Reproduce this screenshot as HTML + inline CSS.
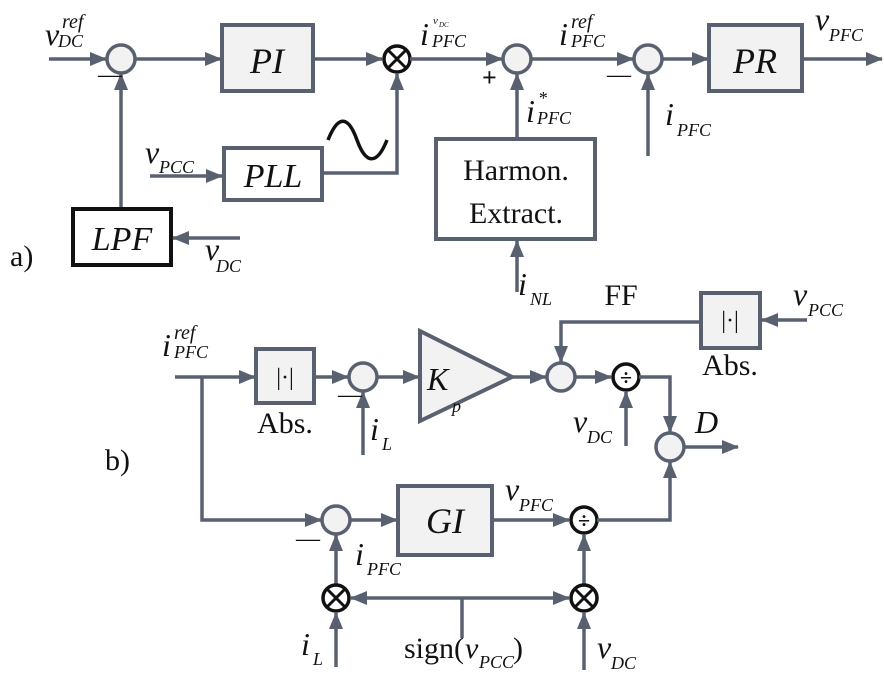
<!DOCTYPE html>
<html><head><meta charset="utf-8"><style>
html,body{margin:0;padding:0;background:#fff}
svg{display:block}
text{font-family:"Liberation Serif",serif;fill:#111}
.it{font-style:italic}
.ln{stroke:#596070;stroke-width:3.5;fill:none}
.bx{stroke:#596070;stroke-width:4;fill:#f2f2f2}
.bk{stroke:#111;stroke-width:4;fill:#fff}
.sm{stroke:#596070;stroke-width:3.5;fill:#f2f2f2}
.op{stroke:#111;stroke-width:3.5;fill:#fff}
</style></head><body>
<svg width="884" height="689" viewBox="0 0 884 689">
<defs><marker id="a" markerUnits="userSpaceOnUse" markerWidth="18" markerHeight="14" refX="16" refY="7" orient="auto"><path d="M0,0 L17,7 L0,14 z" fill="#596070"/></marker></defs>

<g>
<path class="ln" d="M49,59 H106" marker-end="url(#a)"/>
<circle class="sm" cx="121" cy="59" r="14"/>
<path class="ln" d="M135,59 H221" marker-end="url(#a)"/>
<rect class="bx" x="222" y="25" width="91" height="66"/>
<text class="it" x="267" y="73" font-size="36" text-anchor="middle">PI</text>
<path class="ln" d="M313,59 H382" marker-end="url(#a)"/>
<g><circle class="op" cx="397" cy="59" r="13"/><path d="M388,50 L406,68 M406,50 L388,68" stroke="#111" stroke-width="3"/></g>
<path class="ln" d="M410,59 H502" marker-end="url(#a)"/>
<circle class="sm" cx="517" cy="59" r="14"/>
<path class="ln" d="M531,59 H633" marker-end="url(#a)"/>
<circle class="sm" cx="648" cy="59" r="14"/>
<path class="ln" d="M662,59 H708" marker-end="url(#a)"/>
<rect class="bx" x="709" y="25" width="93" height="66"/>
<text class="it" x="755" y="73" font-size="36" text-anchor="middle">PR</text>
<path class="ln" d="M802,59 H882" marker-end="url(#a)"/>
<path class="ln" d="M121,209 V74" marker-end="url(#a)"/>
<rect class="bk" x="73" y="209" width="98" height="56"/>
<text class="it" x="122" y="250" font-size="34" text-anchor="middle">LPF</text>
<path class="ln" d="M240,238 H173" marker-end="url(#a)"/>
<path class="ln" d="M150,176 H222" marker-end="url(#a)"/>
<rect class="bx" x="224" y="148" width="98" height="52" style="fill:#fff"/>
<text class="it" x="273" y="187" font-size="34" text-anchor="middle">PLL</text>
<path class="ln" d="M322,173 H397 V74" marker-end="url(#a)"/>
<path d="M328,140 C338,115 348,115 357,140 C366,165 377,165 387,140" stroke="#111" stroke-width="3.5" fill="none"/>
<rect class="bx" x="436" y="139" width="159" height="100" style="fill:#fff"/>
<text x="516" y="180" font-size="30" text-anchor="middle">Harmon.</text>
<text x="516" y="223" font-size="30" text-anchor="middle">Extract.</text>
<path class="ln" d="M517,139 V74" marker-end="url(#a)"/>
<path class="ln" d="M517,292 V241" marker-end="url(#a)"/>
<path class="ln" d="M648,156 V74" marker-end="url(#a)"/>
<text class="it" x="45" y="45" font-size="32">v</text><text class="it" x="62" y="28" font-size="20">ref</text><text class="it" x="58" y="47" font-size="18">DC</text>
<text x="98" y="82" font-size="24">—</text>
<text class="it" x="420" y="45" font-size="32">i</text><text class="it" x="433" y="24" font-size="11">v</text><text class="it" x="439" y="27" font-size="7">DC</text><text class="it" x="432" y="47" font-size="18">PFC</text>
<text x="482" y="86" font-size="26" font-weight="bold">+</text>
<text class="it" x="526" y="122" font-size="32">i</text><text class="it" x="538" y="104" font-size="18">*</text><text class="it" x="537" y="124" font-size="18">PFC</text>
<text class="it" x="559" y="45" font-size="32">i</text><text class="it" x="571" y="28" font-size="20">ref</text><text class="it" x="571" y="47" font-size="18">PFC</text>
<text x="607" y="82" font-size="24">—</text>
<text class="it" x="665" y="125" font-size="32">i</text><text class="it" x="677" y="136" font-size="18">PFC</text>
<text class="it" x="815" y="30" font-size="32">v</text><text class="it" x="829" y="41" font-size="18">PFC</text>
<text class="it" x="145" y="163" font-size="32">v</text><text class="it" x="159" y="173" font-size="18">PCC</text>
<text class="it" x="205" y="260" font-size="32">v</text><text class="it" x="216" y="272" font-size="18">DC</text>
<text class="it" x="518" y="295" font-size="32">i</text><text class="it" x="530" y="305" font-size="18">NL</text>
<text x="10" y="266" font-size="30">a)</text>
</g>

<g>
<path class="ln" d="M175,377 H255" marker-end="url(#a)"/>
<rect class="bx" x="256" y="349" width="58" height="54"/>
<text x="285" y="385" font-size="24" text-anchor="middle">|·|</text>
<path class="ln" d="M314,377 H348" marker-end="url(#a)"/>
<circle class="sm" cx="363" cy="377" r="14"/>
<path class="ln" d="M363,455 V392" marker-end="url(#a)"/>
<path class="ln" d="M377,377 H419" marker-end="url(#a)"/>
<path class="bx" d="M420,331 L512,377 L420,421 Z"/>
<text class="it" x="427" y="390" font-size="32">K</text><text class="it" x="452" y="412" font-size="18">p</text>
<path class="ln" d="M512,377 H546" marker-end="url(#a)"/>
<circle class="sm" cx="561" cy="377" r="14"/>
<path class="ln" d="M575,377 H611" marker-end="url(#a)"/>
<g><circle class="op" cx="626" cy="377" r="13"/><text x="626" y="385" font-size="22" text-anchor="middle" font-weight="bold">÷</text></g>
<path class="ln" d="M626,446 V392" marker-end="url(#a)"/>
<path class="ln" d="M639,377 H670 V432" marker-end="url(#a)"/>
<circle class="sm" cx="670" cy="447" r="14"/>
<path class="ln" d="M684,447 H738" marker-end="url(#a)"/>
<rect class="bx" x="701" y="293" width="59" height="55"/>
<text x="730" y="328" font-size="24" text-anchor="middle">|·|</text>
<path class="ln" d="M807,320 H762" marker-end="url(#a)"/>
<path class="ln" d="M701,322 H561 V362" marker-end="url(#a)"/>
<path class="ln" d="M202,377 V520 H321" marker-end="url(#a)"/>
<circle class="sm" cx="336" cy="520" r="14"/>
<path class="ln" d="M350,520 H397" marker-end="url(#a)"/>
<rect class="bx" x="398" y="486" width="94" height="69"/>
<text class="it" x="445" y="533" font-size="36" text-anchor="middle">GI</text>
<path class="ln" d="M492,520 H569" marker-end="url(#a)"/>
<g><circle class="op" cx="584" cy="520" r="13"/><text x="584" y="528" font-size="22" text-anchor="middle" font-weight="bold">÷</text></g>
<path class="ln" d="M597,520 H670 V462" marker-end="url(#a)"/>
<path class="ln" d="M336,585 V535" marker-end="url(#a)"/>
<path class="ln" d="M584,585 V535" marker-end="url(#a)"/>
<g><circle class="op" cx="336" cy="598" r="13"/><path d="M327,589 L345,607 M345,589 L327,607" stroke="#111" stroke-width="3"/></g>
<g><circle class="op" cx="584" cy="598" r="13"/><path d="M575,589 L593,607 M593,589 L575,607" stroke="#111" stroke-width="3"/></g>
<path class="ln" d="M462,598 H351" marker-end="url(#a)"/>
<path class="ln" d="M462,598 H569" marker-end="url(#a)"/>
<path class="ln" d="M462,598 V638"/>
<path class="ln" d="M336,667 V613" marker-end="url(#a)"/>
<path class="ln" d="M584,670 V613" marker-end="url(#a)"/>
<text class="it" x="162" y="356" font-size="32">i</text><text class="it" x="174" y="339" font-size="20">ref</text><text class="it" x="174" y="358" font-size="18">PFC</text>
<text x="285" y="433" font-size="30" text-anchor="middle">Abs.</text>
<text x="338" y="402" font-size="24">—</text>
<text class="it" x="370" y="440" font-size="32">i</text><text class="it" x="382" y="450" font-size="18">L</text>
<text x="621" y="305" font-size="30" text-anchor="middle">FF</text>
<text class="it" x="793" y="305" font-size="32">v</text><text class="it" x="808" y="316" font-size="18">PCC</text>
<text x="730" y="375" font-size="30" text-anchor="middle">Abs.</text>
<text class="it" x="573" y="432" font-size="32">v</text><text class="it" x="587" y="443" font-size="18">DC</text>
<text class="it" x="695" y="433" font-size="32">D</text>
<text x="105" y="470" font-size="30">b)</text>
<text class="it" x="505" y="500" font-size="32">v</text><text class="it" x="519" y="511" font-size="18">PFC</text>
<text x="296" y="546" font-size="24">—</text>
<text class="it" x="355" y="565" font-size="32">i</text><text class="it" x="367" y="575" font-size="18">PFC</text>
<text class="it" x="301" y="655" font-size="32">i</text><text class="it" x="313" y="665" font-size="18">L</text>
<text x="404" y="658" font-size="30">sign(</text><text class="it" x="465" y="658" font-size="30">v</text><text class="it" x="479" y="668" font-size="18">PCC</text><text x="513" y="658" font-size="30">)</text>
<text class="it" x="597" y="658" font-size="32">v</text><text class="it" x="611" y="669" font-size="18">DC</text>
</g>
</svg>
</body></html>
